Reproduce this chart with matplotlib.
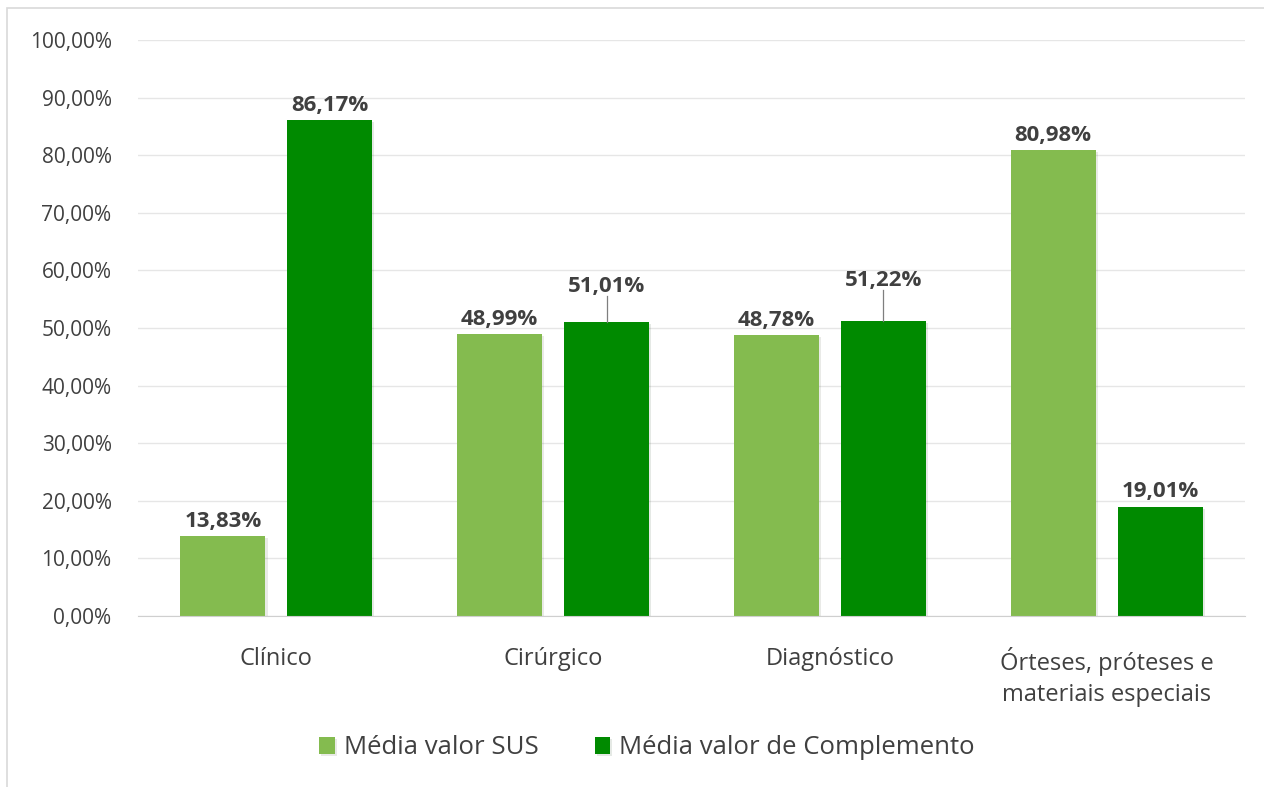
import matplotlib
matplotlib.use("Agg")
from matplotlib import pyplot as plt
from matplotlib.patches import Rectangle
import matplotlib.patheffects as pe
import numpy as np

plt.rcParams['font.family'] = ['Open Sans', 'DejaVu Sans']

categorias = ["Clínico", "Cirúrgico", "Diagnóstico",
              "Órteses, próteses e\nmateriais especiais"]
sus = [13.83, 48.99, 48.78, 80.98]
complemento = [86.17, 51.01, 51.22, 19.01]
serie_nomes = ["Média valor SUS", "Média valor de Complemento"]
yticks = [0, 10, 20, 30, 40, 50, 60, 70, 80, 90, 100]

cor_sus = "#84bb4f"
cor_comp = "#008a00"
cor_texto = "#404040"

fig = plt.figure(figsize=(12.64, 7.87), dpi=100)
ax = fig.add_axes([138/1264, 1-616/787, (1245-138)/1264, (616-40)/787])

# moldura do grafico
fig.patches.append(Rectangle((7/1264, -0.02), 1.2, 1-8/787+0.02,
                             transform=fig.transFigure, fill=False,
                             edgecolor="#d9d9d9", linewidth=1.2))

x = np.arange(len(categorias))
w = 0.307
off = 0.193
sombra = [pe.SimplePatchShadow(offset=(1.5, -1.5), alpha=0.1), pe.Normal()]

b1 = ax.bar(x - off, sus, w, color=cor_sus, label=serie_nomes[0], zorder=3)
b2 = ax.bar(x + off, complemento, w, color=cor_comp, label=serie_nomes[1], zorder=3)
for b in list(b1) + list(b2):
    b.set_path_effects(sombra)

def fmt(v):
    return ("%.2f%%" % v).replace(".", ",")

lab = dict(ha="center", va="bottom", fontsize=16, fontweight="bold", color=cor_texto)
for i, v in enumerate(sus):
    ax.text(x[i] - off, v + 0.7, fmt(v), **lab)
for i, v in enumerate(complemento):
    if i in (1, 2):
        # rotulos deslocados com linha de chamada
        ytxt = v + 4.3 + (i - 1) * 0.9
        ax.text(x[i] + off, ytxt, fmt(v), **lab)
        ax.plot([x[i] + off, x[i] + off], [v, ytxt + 0.2], color="#7f7f7f",
                linewidth=0.9, zorder=4)
    else:
        ax.text(x[i] + off, v + 0.7, fmt(v), **lab)

ax.set_ylim(0, 100)
ax.set_xlim(-0.5, len(categorias) - 0.5)
ax.set_yticks(yticks)
ax.set_yticklabels([fmt(t) for t in yticks], fontsize=15, color=cor_texto)
ax.set_xticks(x)
ax.set_xticklabels(categorias, fontsize=17, color=cor_texto, linespacing=1.4)
ax.tick_params(axis="y", length=0, pad=19)
ax.tick_params(axis="x", length=0, pad=22)
ax.grid(axis="y", color="#e6e6e6", linewidth=1, zorder=0)
for s in ["top", "right", "left"]:
    ax.spines[s].set_visible(False)
ax.spines["bottom"].set_color("#cfcfcf")
ax.spines["bottom"].set_zorder(4)

fig.legend(handles=[b1, b2], labels=serie_nomes, loc="center",
           bbox_to_anchor=(647/1264, 1-748/787), ncol=2, frameon=False,
           fontsize=18.5, handlelength=0.6, handleheight=0.6, handletextpad=0.35,
           columnspacing=2.2, labelcolor=cor_texto)

fig.savefig("out.png", dpi=100)
